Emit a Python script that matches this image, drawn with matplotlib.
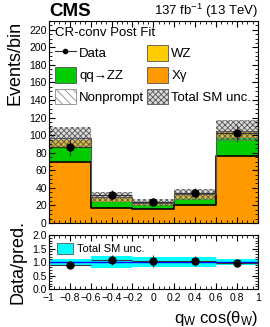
import matplotlib
matplotlib.use("Agg")
import matplotlib.pyplot as plt
from matplotlib.patches import Patch
from matplotlib.lines import Line2D
from matplotlib.ticker import MultipleLocator
import numpy as np

plt.rcParams['font.family'] = ['Liberation Sans', 'DejaVu Sans']
plt.rcParams['hatch.linewidth'] = 0.6
plt.rcParams['mathtext.default'] = 'regular'

# data
edges = [-1.0, -0.6, -0.2, 0.2, 0.6, 1.0]
xgamma = [69, 17.5, 16.5, 21, 76.5]
qqzz = [16, 6.5, 3.5, 6, 20]
wz = [9, 4.5, 2.5, 4.5, 7]
nonprompt = [3, 1, 0.5, 1, 1.5]
tot_unc = [12, 6, 4, 6, 12]
data = [86, 32, 24, 34, 102]
data_err = [9.5, 5.7, 5.0, 5.9, 10.0]
ratio_unc = [0.13, 0.22, 0.2, 0.2, 0.12]
xticklabels = ["\u22121", "\u22120.8", "\u22120.6", "\u22120.4", "\u22120.2", "0",
               "0.2", "0.4", "0.6", "0.8", "1"]

edges = np.array(edges)
centers = (edges[:-1] + edges[1:]) / 2
halfw = (edges[1:] - edges[:-1]) / 2
xgamma = np.array(xgamma); qqzz = np.array(qqzz); wz = np.array(wz)
nonprompt = np.array(nonprompt)
total = xgamma + qqzz + wz + nonprompt
data = np.array(data); data_err = np.array(data_err)
tot_unc = np.array(tot_unc); ratio_unc = np.array(ratio_unc)

fig = plt.figure(figsize=(2.7, 3.27), dpi=100)
ax = fig.add_axes([0.181, 0.318, 0.774, 0.618])
rax = fig.add_axes([0.181, 0.116, 0.774, 0.165])

def st(v):
    return np.append(v, v[-1])

bottom = np.zeros(5)
for vals, col, hatch in [(xgamma, '#ff9900', None), (qqzz, '#00cc00', None),
                         (wz, '#ffcc00', None), (nonprompt, 'white', '\\\\\\\\')]:
    ax.fill_between(edges, st(bottom), st(bottom + vals), step='post',
                    facecolor=col, edgecolor='#999999' if hatch else 'none',
                    hatch=hatch, linewidth=0)
    bottom = bottom + vals
ax.step(edges, st(xgamma), where='post', color='black', lw=1.2)
ax.step(edges, st(total), where='post', color='#555555', lw=0.8)
ax.fill_between(edges, st(total - tot_unc), st(total + tot_unc), step='post',
                facecolor=(0.6, 0.6, 0.6, 0.35), edgecolor='#555555', hatch='xxxxxx',
                linewidth=0)
ax.errorbar(centers, data, yerr=data_err, xerr=halfw, fmt='o', color='black',
            ms=5, elinewidth=0.8, ecolor='#333333', capsize=0)

ax.set_xlim(-1, 1)
ax.set_ylim(0, 230)
ax.set_xticks(np.arange(-1, 1.01, 0.2))
ax.set_xticklabels([])
ax.xaxis.set_minor_locator(MultipleLocator(0.05))
ax.yaxis.set_minor_locator(MultipleLocator(5))
ax.set_yticks(np.arange(0, 221, 20))
ax.set_ylabel("Events/bin", fontsize=13, loc='top')
ax.text(0.0, 1.005, "CMS", transform=ax.transAxes, fontsize=13.5, fontweight='bold',
        ha='left', va='bottom')
ax.text(1.0, 1.005, "137 fb$^{-1}$ (13 TeV)", transform=ax.transAxes, fontsize=9.5,
        ha='right', va='bottom')

handles = [
    Line2D([], [], color='#333333', marker='o', ms=3, mfc='black', mec='black', lw=0.8),
    Patch(facecolor='#00cc00', edgecolor='#555555', lw=0.6),
    Patch(facecolor='white', edgecolor='#888888', hatch='\\\\\\\\', lw=0.6),
    Patch(facecolor='#ffcc00', edgecolor='#555555', lw=0.6),
    Patch(facecolor='#ff9900', edgecolor='#555555', lw=0.6),
    Patch(facecolor=(0.6, 0.6, 0.6, 0.35), edgecolor='#555555', hatch='xxxxxx', lw=0.6),
]
labels = ["Data", "qq\u2192ZZ", "Nonprompt", "WZ", "X\u03b3", "Total SM unc."]
leg = ax.legend(handles, labels, ncol=2, loc='upper left', frameon=False,
                fontsize=9.5, title="CR-conv Post Fit", title_fontsize=9.5,
                handlelength=1.6, handleheight=1.4, columnspacing=0.2,
                handletextpad=0.25, labelspacing=0.5, borderaxespad=0.15,
                borderpad=0.3, alignment='left')

# ratio panel
ratio = data / total
ratio_err = data_err / total
rax.fill_between(edges, st(1 - ratio_unc), st(1 + ratio_unc), step='post',
                 color='#00ffff', linewidth=0)
rax.axhline(1.0, color='#0000ff', lw=1.0)
rax.errorbar(centers, ratio, yerr=ratio_err, xerr=halfw, fmt='o', color='black',
             ms=5, elinewidth=0.8, ecolor='#333333', capsize=0)
rax.set_xlim(-1, 1)
rax.set_ylim(0, 2)
rax.set_xticks(np.arange(-1, 1.01, 0.2))
rax.set_xticklabels(xticklabels)
rax.xaxis.set_minor_locator(MultipleLocator(0.05))
rax.yaxis.set_minor_locator(MultipleLocator(0.1))
rax.set_yticks([0, 0.5, 1.0, 1.5, 2.0])
rax.set_yticklabels(["0.0", "0.5", "1.0", "1.5", "2.0"])
rax.set_ylabel("Data/pred.", fontsize=13)
rax.set_xlabel("q$_W$ cos($\\theta_W$)", fontsize=12, loc='right')
rax.legend([Patch(facecolor='#00ffff', edgecolor='#555555', lw=0.6)], ["Total SM unc."],
           loc='upper left', frameon=False, fontsize=8, handlelength=1.5,
           handleheight=1.1, handletextpad=0.3, borderaxespad=0.3)

for a in (ax, rax):
    a.tick_params(which='both', direction='in', top=True, right=True, labelsize=7.5)
    a.tick_params(which='major', length=4)
    a.tick_params(which='minor', length=2)
    for s in a.spines.values():
        s.set_linewidth(0.8)
ax.tick_params(axis='y', pad=1.5)
rax.tick_params(axis='y', pad=1.5)
rax.tick_params(axis='x', pad=3)

fig.align_ylabels([ax, rax])
fig.savefig("out.png", dpi=100)
